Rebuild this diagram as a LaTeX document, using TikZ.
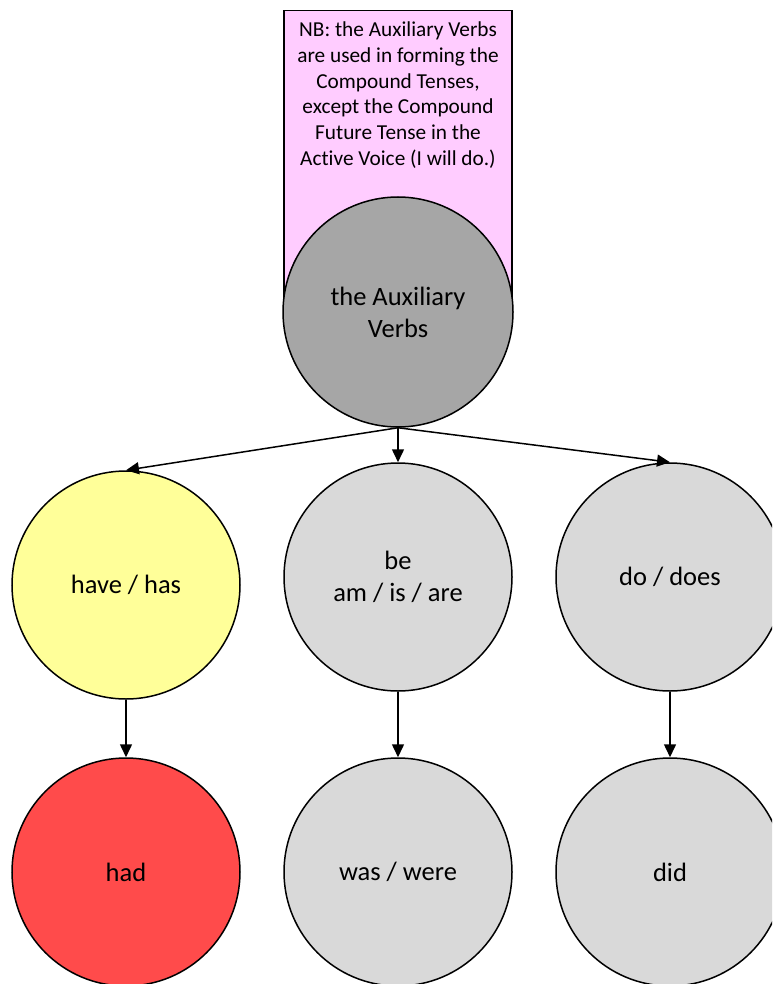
\documentclass[tikz,border=0pt]{standalone}
\usepackage{fontspec}
\setmainfont{Carlito}[Ligatures=NoCommon]
\usetikzlibrary{arrows.meta}
\definecolor{notepink}{HTML}{FFCCFF}
\definecolor{rootgray}{HTML}{A6A6A6}
\definecolor{leafgray}{HTML}{D9D9D9}
\definecolor{haveyellow}{HTML}{FFFF99}
\definecolor{hadred}{HTML}{FF4B4B}
\begin{document}
\begin{tikzpicture}[x=1pt,y=-1pt,
  verb/.style={circle,draw=black,line width=1.5pt,inner sep=0pt,
    minimum size=228pt,align=center,font=\fontsize{26.5}{32}\selectfont},
  link/.style={line width=1.5pt,-{Triangle[length=13pt,width=12pt]}}]
\useasboundingbox (0,0) rectangle (772,984);
\clip (0,0) rectangle (772,984);
% explanatory note behind the root circle
\node[draw=black,fill=notepink,line width=1.5pt,minimum width=228pt,minimum height=302pt,
  inner sep=0pt,anchor=north] (note) at (398,10) {};
\node[align=center,font=\fontsize{21.3}{25.8}\selectfont] (notetext) at (398,95)
  {NB: the Auxiliary Verbs\\are used in forming the\\Compound Tenses,\\except the Compound\\Future Tense in the\\Active Voice (I will do.)};
% root
\node[verb,fill=rootgray,minimum size=230pt] (aux) at (398,312) {the Auxiliary\\Verbs};
% present forms
\node[verb,fill=haveyellow] (have) at (126,585) {have / has};
\node[verb,fill=leafgray] (be) at (398,577) {be\\am / is / are};
\node[verb,fill=leafgray] (do) at (670,577) {do / does};
% past forms
\node[verb,fill=hadred] (had) at (126,872) {had};
\node[verb,fill=leafgray] (was) at (398,872) {was / were};
\node[verb,fill=leafgray] (did) at (670,872) {did};
% connectors
\draw[link] (aux.south) -- (have.north);
\draw[link] (aux.south) -- (be.north);
\draw[link] (aux.south) -- (do.north);
\draw[link] (have.south) -- (had.north);
\draw[link] (be.south) -- (was.north);
\draw[link] (do.south) -- (did.north);
\end{tikzpicture}
\end{document}
